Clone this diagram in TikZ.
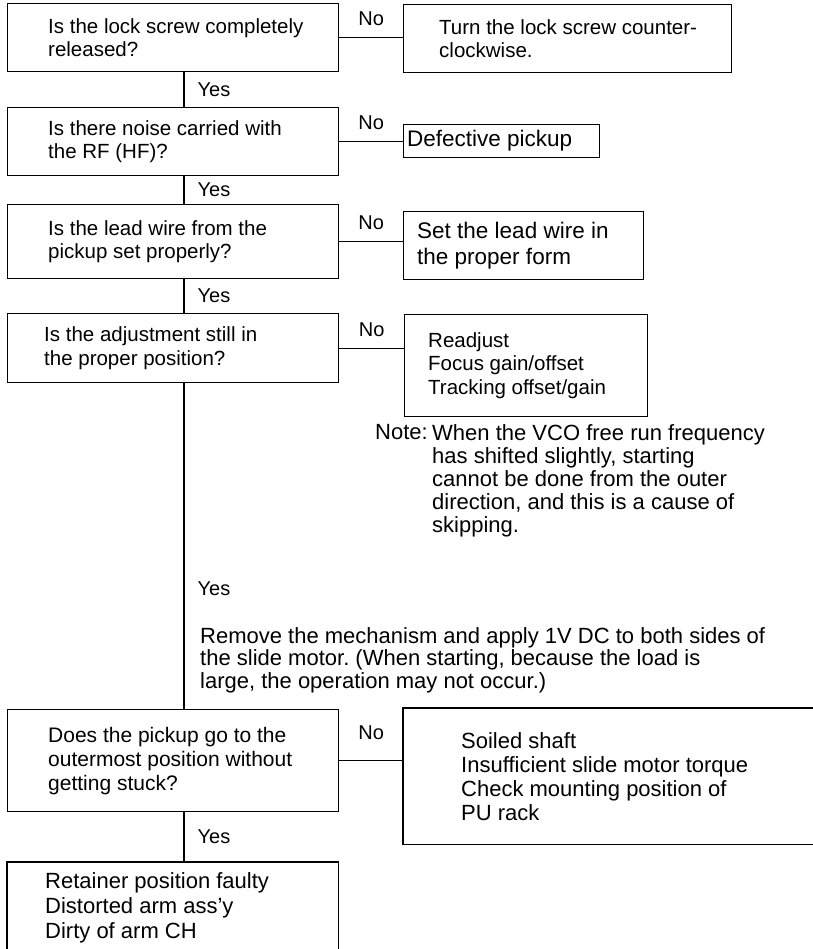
\documentclass[tikz,border=0pt]{standalone}
\usepackage{fontspec}
\setmainfont{Liberation Sans}
\usetikzlibrary{positioning}
\frenchspacing

\tikzset{
  box/.style={draw, line width=1.3pt, anchor=north west, inner sep=0pt},
  openbox/.style={anchor=north west, inner sep=0pt},
  txt/.style={anchor=west, align=left, inner sep=0pt, font=\fontsize{20.5}{23.5}\selectfont},
  bigtxt/.style={txt, font=\fontsize{22}{24}\selectfont},
  lbl/.style={inner sep=0pt, font=\fontsize{20}{22}\selectfont},
  no/.style={lbl, anchor=south, yshift=11pt},
  yes/.style={lbl, anchor=west, xshift=13pt},
  link/.style={line width=1.3pt}
}

\begin{document}
\begin{tikzpicture}[x=1pt, y=-1pt]
  \useasboundingbox (0,0) rectangle (812,949);
  \coordinate (spine) at (184,0);

  % questions
  \node[box, minimum width=331pt, minimum height=68pt] (q1) at (7,3) {};
  \node[txt, right=41pt of q1.west] (q1t) {Is the lock screw completely\\released?};
  \node[box, minimum width=331pt, minimum height=68pt] (q2) at (7,107) {};
  \node[txt, right=41pt of q2.west] (q2t) {Is there noise carried with\\the RF (HF)?};
  \node[box, minimum width=331pt, minimum height=74pt] (q3) at (7,204) {};
  \node[txt, right=41pt of q3.west] (q3t) {Is the lead wire from the\\pickup set properly?};
  \node[box, minimum width=331pt, minimum height=69pt] (q4) at (7,313) {};
  \node[txt, right=37pt of q4.west, font=\fontsize{20.5}{24}\selectfont] (q4t) {Is the adjustment still in\\the proper position?};
  \node[box, minimum width=331pt, minimum height=102pt] (q5) at (7,709) {};
  \node[bigtxt, right=41pt of q5.west, font=\fontsize{21}{24}\selectfont] (q5t) {Does the pickup go to the\\outermost position without\\getting stuck?};
  \node[openbox, minimum width=331pt, minimum height=92pt] (q6) at (7,862) {};
  \draw[link] (q6.south west) |- (q6.north east) -- (q6.south east);
  \node[bigtxt, right=38pt of q6.west, font=\fontsize{22}{25}\selectfont] (q6t) {Retainer position faulty\\Distorted arm ass'y\\Dirty of arm CH};

  % answers for No
  \node[box, minimum width=328pt, minimum height=68pt] (a1) at (403,4) {};
  \node[txt, right=36pt of a1.west] (a1t) {Turn the lock screw counter-\\clockwise.};
  \node[box, minimum width=196pt, minimum height=33pt] (a2) at (403,124) {};
  \node[bigtxt, right=4pt of a2.west, font=\fontsize{22.5}{24}\selectfont] (a2t) {Defective pickup};
  \node[box, minimum width=240pt, minimum height=68pt] (a3) at (403,211) {};
  \node[bigtxt, right=14pt of a3.west, font=\fontsize{22.5}{26}\selectfont] (a3t) {Set the lead wire in\\the proper form};
  \node[box, minimum width=243pt, minimum height=102pt] (a4) at (404,314) {};
  \node[txt, right=24pt of a4.west] (a4t) {Readjust\\Focus gain/offset\\Tracking offset/gain};
  \node[openbox, minimum width=420pt, minimum height=136pt] (a5) at (403,708) {};
  \draw[link] (a5.north east) -- (a5.north west) -- (a5.south west) -- (a5.south east);
  \node[bigtxt, right=58pt of a5.west] (a5t) {Soiled shaft\\Insufficient slide motor torque\\Check mounting position of\\PU rack};

  % remarks
  \node[bigtxt, anchor=north west, font=\fontsize{22}{23}\selectfont] (note) at (375,424) {Note:};
  \node[bigtxt, anchor=north west, font=\fontsize{22}{23}\selectfont] (notet) at (432,424) {When the VCO free run frequency\\has shifted slightly, starting\\cannot be done from the outer\\direction, and this is a cause of\\skipping.};
  \node[bigtxt, anchor=north west, font=\fontsize{22}{22.7}\selectfont] (motor) at (200,627) {Remove the mechanism and apply 1V DC to both sides of\\the slide motor. (When starting, because the load is\\large, the operation may not occur.)};

  % Yes path
  \draw[link] (q1.south -| spine) -- node[yes] (y1) {Yes} (q2.north -| spine);
  \draw[link] (q2.south -| spine) -- node[yes] (y2) {Yes} (q3.north -| spine);
  \draw[link] (q3.south -| spine) -- node[yes] (y3) {Yes} (q4.north -| spine);
  \draw[link] (q4.south -| spine) -- node[yes, pos=0.63] (y4) {Yes} (q5.north -| spine);
  \draw[link] (q5.south -| spine) -- node[yes] (y5) {Yes} (q6.north -| spine);

  % No path
  \draw[link] (q1.east) -- node[no] (n1) {No} (q1.east -| a1.west);
  \draw[link] (q2.east) -- node[no] (n2) {No} (q2.east -| a2.west);
  \draw[link] (q3.east) -- node[no] (n3) {No} (q3.east -| a3.west);
  \draw[link] (q4.east) -- node[no] (n4) {No} (q4.east -| a4.west);
  \draw[link] (q5.east) -- node[no, yshift=9pt] (n5) {No} (q5.east -| a5.west);
\end{tikzpicture}
\end{document}
